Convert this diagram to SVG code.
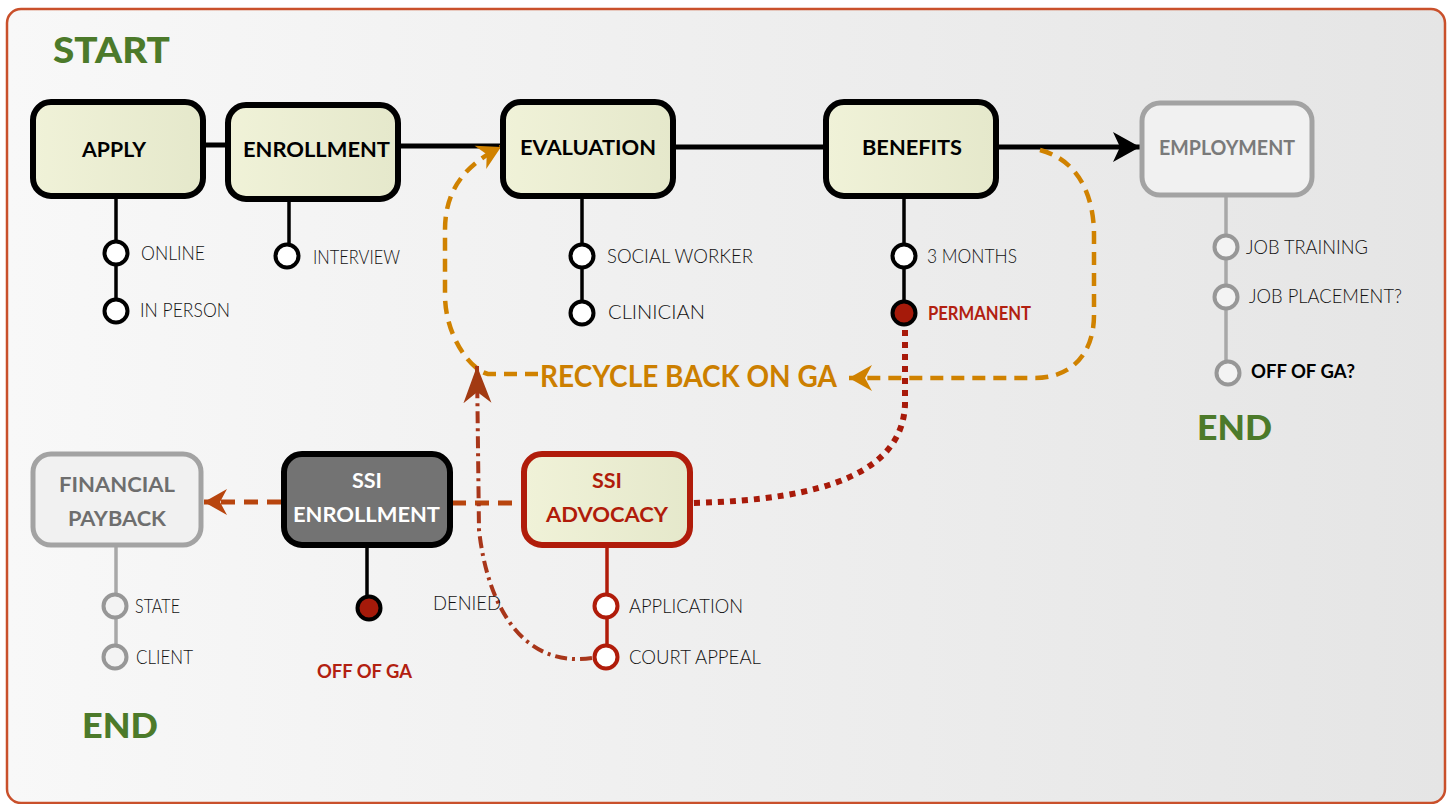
<svg xmlns="http://www.w3.org/2000/svg" width="1451" height="804" viewBox="0 0 1451 804">
<defs>
<linearGradient id="bg" x1="0" y1="0" x2="1" y2="0">
<stop offset="0" stop-color="#f8f8f8"/><stop offset="1" stop-color="#e5e5e5"/>
</linearGradient>
<linearGradient id="nf" x1="0" y1="0" x2="1" y2="0">
<stop offset="0" stop-color="#f0f2d8"/><stop offset="1" stop-color="#e5e8cb"/>
</linearGradient>
<marker id="arrK" viewBox="-30 -17 32 34" refX="0" refY="0" markerWidth="32" markerHeight="34" markerUnits="userSpaceOnUse" orient="auto">
<path d="M0,0 L-27,-15 L-20,0 L-27,15 Z" fill="#000"/>
</marker>
<marker id="arrO" viewBox="-26 -15 28 30" refX="0" refY="0" markerWidth="28" markerHeight="30" markerUnits="userSpaceOnUse" orient="auto">
<path d="M0,0 L-23,-13 L-16,0 L-23,13 Z" fill="#d08200"/>
</marker>
<marker id="arrB" viewBox="-26 -15 28 30" refX="0" refY="0" markerWidth="28" markerHeight="30" markerUnits="userSpaceOnUse" orient="auto">
<path d="M0,0 L-23,-13 L-16,0 L-23,13 Z" fill="#b8450e"/>
</marker>
<marker id="arrR" viewBox="-40 -16 42 32" refX="0" refY="0" markerWidth="42" markerHeight="32" markerUnits="userSpaceOnUse" orient="auto">
<path d="M0,0 L-37,-14 L-26,0 L-37,14 Z" fill="#a23a12"/>
</marker>
</defs>
<style>
.box{fill:url(#nf);stroke:#000;stroke-width:6}
.gbox{fill:#f1f1f1;stroke:#a3a3a3;stroke-width:5}
.t{font-family:Lato,"Open Sans","Liberation Sans",sans-serif;font-weight:700;font-size:21px;fill:#000}
.l{font-family:Lato,"Open Sans","Liberation Sans",sans-serif;font-weight:300;font-size:19px;fill:#111}
.g{font-family:Lato,"Liberation Sans",sans-serif;font-weight:900;fill:#4c7a2a}
.stem{stroke:#000;stroke-width:3.5;fill:none}
.dot{fill:#fff;stroke:#000;stroke-width:4}
.gstem{stroke:#a8a8a8;stroke-width:3.5;fill:none}
.gdot{fill:#f3f3f3;stroke:#979797;stroke-width:4}
.rstem{stroke:#b01c0a;stroke-width:3.5;fill:none}
.rdot{fill:#fff;stroke:#b01c0a;stroke-width:4}
</style>
<rect x="7" y="9" width="1438" height="794" rx="14" fill="url(#bg)" stroke="#c9502b" stroke-width="2.5"/>

<text class="g" x="53" y="63" font-size="36" textLength="117" lengthAdjust="spacingAndGlyphs">START</text>
<text class="g" x="1197" y="440" font-size="34" textLength="75" lengthAdjust="spacingAndGlyphs">END</text>
<text class="g" x="82" y="738" font-size="34" textLength="76" lengthAdjust="spacingAndGlyphs">END</text>

<g id="connectors">
<path d="M203 145 L228 145" stroke="#000" stroke-width="5"/>
<path d="M398 146 L503 146" stroke="#000" stroke-width="5"/>
<path d="M673 147 L825 147" stroke="#000" stroke-width="5"/>
<path d="M997 147 L1140 147" stroke="#000" stroke-width="5" marker-end="url(#arrK)"/>
<path d="M1040 150 C1078 160 1094 195 1094 235 L1094 315 C1094 355 1070 378 1035 378 L849 378" fill="none" stroke="#d08200" stroke-width="4.5" stroke-dasharray="13 8" marker-end="url(#arrO)"/>
<path d="M538 374 L488 374 C470 370 445 335 445 295 L445 230 C445 190 465 165 501 147" fill="none" stroke="#d08200" stroke-width="4.5" stroke-dasharray="13 8" marker-end="url(#arrO)"/>
<path d="M452 503 L521 503" stroke="#b8450e" stroke-width="5" stroke-dasharray="14 9"/>
<path d="M281 502 L204 502" stroke="#b8450e" stroke-width="5" stroke-dasharray="14 9" marker-end="url(#arrB)"/>
<path d="M905 330 L905 405 C902 470 830 500 692 503" fill="none" stroke="#a81a0a" stroke-width="6" stroke-dasharray="6 6"/>
<path d="M592 658 C525 668 488 610 479 530 L477 366" fill="none" stroke="#a8361a" stroke-width="4" stroke-dasharray="12 5 3 5" marker-end="url(#arrR)"/>
<text x="540" y="387" font-family="Lato,'Liberation Sans',sans-serif" font-weight="700" font-size="30" fill="#cc7f00" textLength="297" lengthAdjust="spacingAndGlyphs">RECYCLE BACK ON GA</text>
<text class="l" x="433" y="610" textLength="68" lengthAdjust="spacingAndGlyphs">DENIED</text>
</g>

<g id="apply">
<path class="stem" d="M116 197 L116 311"/>
<rect class="box" x="33" y="102" width="170" height="94" rx="18"/>
<text class="t" x="82" y="157" textLength="64" lengthAdjust="spacingAndGlyphs">APPLY</text>
<circle class="dot" cx="116" cy="253" r="11.5"/>
<circle class="dot" cx="116" cy="311" r="11.5"/>
<text class="l" x="141" y="260" textLength="64" lengthAdjust="spacingAndGlyphs">ONLINE</text>
<text class="l" x="140" y="317" textLength="90" lengthAdjust="spacingAndGlyphs">IN PERSON</text>
</g>

<g id="enrollment">
<path class="stem" d="M289 200 L289 256"/>
<rect class="box" x="228" y="105" width="170" height="94" rx="18"/>
<text class="t" x="243" y="157" textLength="147" lengthAdjust="spacingAndGlyphs">ENROLLMENT</text>
<circle class="dot" cx="287" cy="256" r="11.5"/>
<text class="l" x="313" y="264" textLength="87" lengthAdjust="spacingAndGlyphs">INTERVIEW</text>
</g>

<g id="evaluation">
<path class="stem" d="M582 197 L582 313"/>
<rect class="box" x="503" y="102" width="170" height="94" rx="18"/>
<text class="t" x="520" y="155" textLength="136" lengthAdjust="spacingAndGlyphs">EVALUATION</text>
<circle class="dot" cx="582" cy="256" r="11.5"/>
<circle class="dot" cx="582" cy="313" r="11.5"/>
<text class="l" x="607" y="263" textLength="146" lengthAdjust="spacingAndGlyphs">SOCIAL WORKER</text>
<text class="l" x="608" y="319" textLength="97" lengthAdjust="spacingAndGlyphs">CLINICIAN</text>
</g>

<g id="benefits">
<path class="stem" d="M904 197 L904 313"/>
<rect class="box" x="826" y="102" width="170" height="94" rx="18"/>
<text class="t" x="862" y="155" textLength="100" lengthAdjust="spacingAndGlyphs">BENEFITS</text>
<circle class="dot" cx="904" cy="256" r="11.5"/>
<circle cx="904" cy="313" r="11.5" fill="#a51a0a" stroke="#000" stroke-width="4"/>
<text class="l" x="927" y="263" textLength="90" lengthAdjust="spacingAndGlyphs">3 MONTHS</text>
<text class="l" x="928" y="320" style="fill:#b22010;font-weight:700" font-size="18" textLength="103" lengthAdjust="spacingAndGlyphs">PERMANENT</text>
</g>

<g id="employment">
<path class="gstem" d="M1226 197 L1226 372"/>
<rect class="gbox" x="1142" y="103" width="170" height="92" rx="18"/>
<text class="t" x="1159" y="155" style="fill:#7a7a7a" textLength="136" lengthAdjust="spacingAndGlyphs">EMPLOYMENT</text>
<circle class="gdot" cx="1226" cy="247" r="11.5"/>
<circle class="gdot" cx="1226" cy="297" r="11.5"/>
<circle class="gdot" cx="1228" cy="373" r="11.5"/>
<text class="l" x="1246" y="254" textLength="122" lengthAdjust="spacingAndGlyphs">JOB TRAINING</text>
<text class="l" x="1249" y="303" textLength="153" lengthAdjust="spacingAndGlyphs">JOB PLACEMENT?</text>
<text class="l" x="1251" y="378" style="font-weight:700;fill:#000" font-size="18" textLength="104" lengthAdjust="spacingAndGlyphs">OFF OF GA?</text>
</g>

<g id="financial-payback">
<path class="gstem" d="M116 546 L116 657"/>
<rect class="gbox" x="33" y="454" width="168" height="91" rx="18"/>
<text class="t" x="59" y="492" style="fill:#6e6e6e" textLength="116" lengthAdjust="spacingAndGlyphs">FINANCIAL</text>
<text class="t" x="68" y="526" style="fill:#6e6e6e" textLength="98" lengthAdjust="spacingAndGlyphs">PAYBACK</text>
<circle class="gdot" cx="115" cy="606" r="11.5"/>
<circle class="gdot" cx="115" cy="657" r="11.5"/>
<text class="l" x="135" y="613" textLength="45" lengthAdjust="spacingAndGlyphs">STATE</text>
<text class="l" x="136" y="664" textLength="57" lengthAdjust="spacingAndGlyphs">CLIENT</text>
</g>

<g id="ssi-enrollment">
<path class="stem" d="M367 547 L367 608"/>
<rect x="284" y="454" width="166" height="91" rx="18" fill="#737373" stroke="#000" stroke-width="6"/>
<text class="t" x="352" y="488" style="fill:#fff" textLength="30" lengthAdjust="spacingAndGlyphs">SSI</text>
<text class="t" x="293" y="522" style="fill:#fff" textLength="147" lengthAdjust="spacingAndGlyphs">ENROLLMENT</text>
<circle cx="369" cy="608" r="11.5" fill="#a51a0a" stroke="#000" stroke-width="4"/>
<text class="l" x="317" y="678" style="font-weight:700;fill:#b22010" font-size="18" textLength="95" lengthAdjust="spacingAndGlyphs">OFF OF GA</text>
</g>

<g id="ssi-advocacy">
<path class="rstem" d="M607 547 L607 657"/>
<rect x="524" y="454" width="166" height="91" rx="18" fill="url(#nf)" stroke="#b01c0a" stroke-width="6"/>
<text class="t" x="592" y="488" style="fill:#b01c0a" textLength="30" lengthAdjust="spacingAndGlyphs">SSI</text>
<text class="t" x="546" y="522" style="fill:#b01c0a" textLength="122" lengthAdjust="spacingAndGlyphs">ADVOCACY</text>
<circle class="rdot" cx="606" cy="606" r="11.5"/>
<circle class="rdot" cx="606" cy="657" r="11.5"/>
<text class="l" x="629" y="613" textLength="114" lengthAdjust="spacingAndGlyphs">APPLICATION</text>
<text class="l" x="629" y="664" textLength="132" lengthAdjust="spacingAndGlyphs">COURT APPEAL</text>
</g>
</svg>
